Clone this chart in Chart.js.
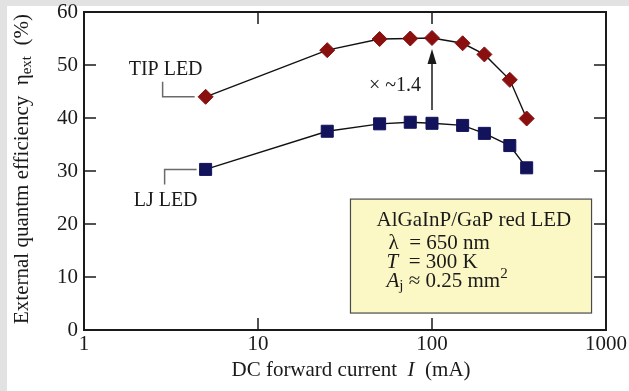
<!DOCTYPE html>
<html>
<head>
<meta charset="utf-8">
<script src="https://cdn.jsdelivr.net/npm/chart.js@4.4.0/dist/chart.umd.min.js"></script>
<style>
  html, body { margin: 0; padding: 0; background: #e2e2e2; }
  #wrap { width: 629px; height: 391px; }
</style>
</head>
<body>
<div id="wrap"><canvas id="eff" width="629" height="391"></canvas></div>
<script>
// data
const currentMA = [5, 25, 50, 75, 100, 150, 200, 280, 350];
const tipEff = [44.0, 52.8, 54.9, 55.0, 55.1, 54.1, 52.0, 47.2, 39.9];
const ljEff = [30.3, 37.5, 38.9, 39.2, 39.0, 38.6, 37.1, 34.8, 30.6];
const xTicks = [1, 10, 100, 1000];
const xInnerTicks = [10, 100];
const yInnerTicks = [10, 20, 30, 40, 50];

const SERIF = '"Liberation Serif", "Times New Roman", serif';
const INK = '#1a1a1a';

function font(size, italic) { return (italic ? 'italic ' : '') + size + 'px ' + SERIF; }

// text with mixed italic / sub / superscript pieces
function drawRich(ctx, parts, x, y, align) {
    ctx.textBaseline = 'middle';
    ctx.textAlign = 'left';
    let w = 0;
    parts.forEach(p => { ctx.font = font(p.size || 21, p.italic); p.w = ctx.measureText(p.t).width; w += p.w; });
    let cx = align === 'center' ? x - w / 2 : x;
    parts.forEach(p => {
        ctx.font = font(p.size || 21, p.italic);
        ctx.fillText(p.t, cx, y + (p.dy || 0));
        cx += p.w;
    });
}

const paperBg = {
    id: 'paperBg',
    beforeDraw(chart) {
        const ctx = chart.ctx;
        ctx.save();
        ctx.fillStyle = '#e2e2e2';
        ctx.fillRect(0, 0, chart.width, chart.height);
        ctx.fillStyle = '#ffffff';
        ctx.fillRect(7, 6, chart.width - 7, chart.height - 6);
        ctx.restore();
    }
};

const frameAndNotes = {
    id: 'frameAndNotes',
    afterDraw(chart) {
        const ctx = chart.ctx;
        const a = chart.chartArea;
        const xs = chart.scales.x, ys = chart.scales.y;
        ctx.save();

        // box frame
        ctx.strokeStyle = INK;
        ctx.lineWidth = 2;
        ctx.strokeRect(a.left, a.top, a.right - a.left, a.bottom - a.top);

        // inward ticks
        ctx.lineWidth = 1.5;
        ctx.beginPath();
        yInnerTicks.forEach(v => {
            const py = ys.getPixelForValue(v);
            ctx.moveTo(a.left, py); ctx.lineTo(a.left + 12, py);
            ctx.moveTo(a.right, py); ctx.lineTo(a.right - 12, py);
        });
        xInnerTicks.forEach(v => {
            const px = xs.getPixelForValue(v);
            ctx.moveTo(px, a.bottom); ctx.lineTo(px, a.bottom - 12);
            ctx.moveTo(px, a.top); ctx.lineTo(px, a.top + 12);
        });
        ctx.stroke();

        ctx.fillStyle = INK;

        // axis titles
        drawRich(ctx, [{ t: 'DC forward current  ' }, { t: 'I', italic: true }, { t: '  (mA)' }], 351, 370, 'center');
        ctx.save();
        ctx.translate(22, 169);
        ctx.rotate(-Math.PI / 2);
        drawRich(ctx, [
            { t: 'External quantm efficiency  η' },
            { t: 'ext', size: 15, dy: 5 },
            { t: '  (%)' }
        ], 0, 0, 'center');
        ctx.restore();

        // series labels with leader lines
        const tx = xs.getPixelForValue(currentMA[0]), ty = ys.getPixelForValue(tipEff[0]);
        const lx = xs.getPixelForValue(currentMA[0]), ly = ys.getPixelForValue(ljEff[0]);
        ctx.strokeStyle = '#6a6a6a';
        ctx.lineWidth = 1.5;
        ctx.beginPath();
        ctx.moveTo(tx - 43, ty - 15); ctx.lineTo(tx - 43, ty); ctx.lineTo(tx - 11, ty);
        ctx.moveTo(lx - 41, ly + 15); ctx.lineTo(lx - 41, ly); ctx.lineTo(lx - 9, ly);
        ctx.stroke();
        drawRich(ctx, [{ t: 'TIP LED', size: 20 }], tx - 40, ty - 27, 'center');
        drawRich(ctx, [{ t: 'LJ LED', size: 20 }], lx - 40, ly + 31, 'center');

        // x1.4 arrow at 100 mA
        const ax = xs.getPixelForValue(100);
        const aBase = ys.getPixelForValue(41.5), aTip = ys.getPixelForValue(53);
        ctx.strokeStyle = INK;
        ctx.lineWidth = 1.5;
        ctx.beginPath();
        ctx.moveTo(ax, aBase); ctx.lineTo(ax, aTip + 12);
        ctx.stroke();
        ctx.beginPath();
        ctx.moveTo(ax, aTip); ctx.lineTo(ax - 4.5, aTip + 15); ctx.lineTo(ax + 4.5, aTip + 15);
        ctx.closePath();
        ctx.fill();
        drawRich(ctx, [{ t: '× ~1.4', size: 20 }], ax - 37, ys.getPixelForValue(46.0), 'center');

        // info box
        const bl = xs.getPixelForValue(34), br = xs.getPixelForValue(826);
        const bt = ys.getPixelForValue(24.7), bb = ys.getPixelForValue(3.2);
        ctx.fillStyle = '#fbf8c6';
        ctx.fillRect(bl, bt, br - bl, bb - bt);
        ctx.strokeStyle = '#4a4a4a';
        ctx.lineWidth = 1.2;
        ctx.strokeRect(bl, bt, br - bl, bb - bt);
        ctx.fillStyle = INK;
        drawRich(ctx, [{ t: 'AlGaInP/GaP red LED' }], bl + 26, bt + 21, 'left');
        drawRich(ctx, [{ t: 'λ' }, { t: '  = 650 nm' }], bl + 38, bt + 44, 'left');
        drawRich(ctx, [{ t: 'T', italic: true }, { t: '  = 300 K' }], bl + 36, bt + 63, 'left');
        drawRich(ctx, [
            { t: 'A', italic: true }, { t: 'j', size: 15, dy: 5 },
            { t: ' ≈ 0.25 mm' }, { t: '2', size: 15, dy: -7 }
        ], bl + 36, bt + 82, 'left');

        ctx.restore();
    }
};

const tipPoints = currentMA.map((c, i) => ({ x: c, y: tipEff[i] }));
const ljPoints = currentMA.map((c, i) => ({ x: c, y: ljEff[i] }));

new Chart(document.getElementById('eff'), {
    type: 'line',
    data: {
        datasets: [
            {
                label: 'TIP LED', data: tipPoints,
                borderColor: '#111', borderWidth: 1.4, tension: 0,
                pointStyle: 'rectRot', pointRadius: 7.5,
                pointBackgroundColor: '#8a0f0f', pointBorderColor: '#8a0f0f', pointBorderWidth: 1
            },
            {
                label: 'LJ LED', data: ljPoints,
                borderColor: '#111', borderWidth: 1.4, tension: 0,
                pointStyle: 'rect', pointRadius: 8.5,
                pointBackgroundColor: '#13135c', pointBorderColor: '#13135c', pointBorderWidth: 1
            }
        ]
    },
    options: {
        responsive: false,
        animation: false,
        devicePixelRatio: 1,
        layout: { padding: { top: 12, right: 22, left: 0, bottom: 0 } },
        plugins: { legend: { display: false }, tooltip: { enabled: false } },
        scales: {
            x: {
                type: 'logarithmic', min: 1, max: 1000,
                afterBuildTicks: s => { s.ticks = xTicks.map(v => ({ value: v })); },
                afterFit: s => { s.height = 61; },
                grid: { display: false, drawTicks: false },
                border: { display: false },
                ticks: {
                    color: INK, padding: 2, maxRotation: 0, autoSkip: false,
                    font: { family: SERIF, size: 21 },
                    callback: v => String(v)
                }
            },
            y: {
                min: 0, max: 60,
                afterFit: s => { s.width = 84; s.paddingTop = 0; s.paddingBottom = 0; },
                grid: { display: false, drawTicks: false },
                border: { display: false },
                ticks: {
                    stepSize: 10, color: INK, padding: 6,
                    font: { family: SERIF, size: 21 }
                }
            }
        }
    },
    plugins: [paperBg, frameAndNotes]
});
</script>
</body>
</html>
